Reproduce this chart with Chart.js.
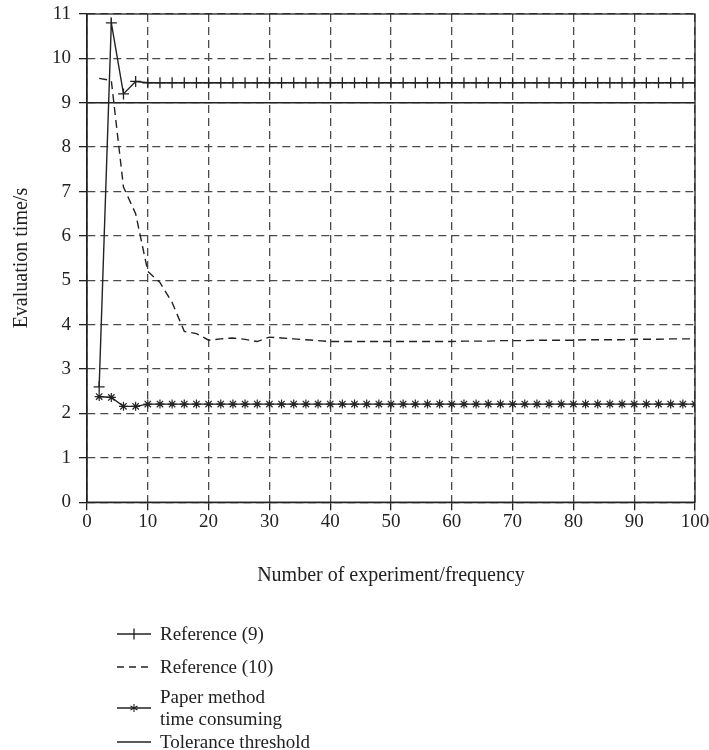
<!DOCTYPE html>
<html>
<head>
<meta charset="utf-8">
<script src="https://cdn.jsdelivr.net/npm/chart.js@4.4.1/dist/chart.umd.min.js"></script>
<style>
  body { margin: 0; background: #fff; }
  #wrap { position: relative; width: 709px; height: 750px; }
  #legend { position: absolute; left: 0; top: 0; width: 709px; height: 750px; pointer-events: none;
            font-family: "Liberation Serif", serif; font-size: 19px; color: #222; white-space: nowrap; }
  .row { position: absolute; left: 117px; display: flex; align-items: center; }
  .row svg { width: 34px; height: 14px; margin-right: 9px; flex: none; }
  .row span { line-height: 22px; }
</style>
</head>
<body>
<div id="wrap">
  <canvas id="chart" width="709" height="750"></canvas>
  <div id="legend">
    <div class="row" style="top:620px;height:28px">
      <svg viewBox="0 0 34 14"><line x1="0" y1="7" x2="34" y2="7" stroke="#222" stroke-width="1.3"/><line x1="17" y1="1.5" x2="17" y2="12.5" stroke="#222" stroke-width="1.3"/></svg>
      <span>Reference (9)</span>
    </div>
    <div class="row" style="top:653px;height:28px">
      <svg viewBox="0 0 34 14"><line x1="0" y1="7" x2="34" y2="7" stroke="#222" stroke-width="1.3" stroke-dasharray="7,5"/></svg>
      <span>Reference (10)</span>
    </div>
    <div class="row" style="top:686px;height:44px">
      <svg viewBox="0 0 34 14"><line x1="0" y1="7" x2="34" y2="7" stroke="#222" stroke-width="1.3"/><path d="M17 3 V11 M13.5 5 L20.5 9 M13.5 9 L20.5 5" stroke="#222" stroke-width="1.1"/></svg>
      <span>Paper method<br>time consuming</span>
    </div>
    <div class="row" style="top:728px;height:28px">
      <svg viewBox="0 0 34 14"><line x1="0" y1="7" x2="34" y2="7" stroke="#222" stroke-width="1.3"/></svg>
      <span>Tolerance threshold</span>
    </div>
  </div>
</div>
<script>
// numero de experimento (eje x)
const runs = [2, 4, 6, 8, 10, 12, 14, 16, 18, 20, 22, 24, 26, 28, 30, 32, 34, 36, 38, 40,
    42, 44, 46, 48, 50, 52, 54, 56, 58, 60, 62, 64, 66, 68, 70, 72, 74, 76, 78, 80,
    82, 84, 86, 88, 90, 92, 94, 96, 98, 100];

// Reference (9)
const ref9 = [2.6, 10.8, 9.2, 9.48, 9.45, 9.45, 9.45, 9.45, 9.45, 9.45, 9.45, 9.45, 9.45, 9.45, 9.45, 9.45, 9.45, 9.45, 9.45, 9.45,
    9.45, 9.45, 9.45, 9.45, 9.45, 9.45, 9.45, 9.45, 9.45, 9.45, 9.45, 9.45, 9.45, 9.45, 9.45, 9.45, 9.45, 9.45, 9.45, 9.45,
    9.45, 9.45, 9.45, 9.45, 9.45, 9.45, 9.45, 9.45, 9.45, 9.45];

// Reference (10)
const ref10 = [9.55, 9.5, 7.1, 6.5, 5.2, 4.95, 4.5, 3.85, 3.8, 3.65, 3.68, 3.7, 3.67, 3.62, 3.72, 3.7, 3.68, 3.66, 3.64, 3.62,
    3.62, 3.62, 3.62, 3.62, 3.62, 3.62, 3.62, 3.62, 3.62, 3.62, 3.63, 3.63, 3.63, 3.64, 3.64, 3.64, 3.65, 3.65, 3.65, 3.65,
    3.66, 3.66, 3.66, 3.66, 3.67, 3.67, 3.67, 3.68, 3.68, 3.68];

// Paper method time consuming
const paper = [2.38, 2.36, 2.16, 2.16, 2.21, 2.21, 2.21, 2.21, 2.21, 2.21, 2.21, 2.21, 2.21, 2.21, 2.21, 2.21, 2.21, 2.21, 2.21, 2.21,
    2.21, 2.21, 2.21, 2.21, 2.21, 2.21, 2.21, 2.21, 2.21, 2.21, 2.21, 2.21, 2.21, 2.21, 2.21, 2.21, 2.21, 2.21, 2.21, 2.21,
    2.21, 2.21, 2.21, 2.21, 2.21, 2.21, 2.21, 2.21, 2.21, 2.21];

// Tolerance threshold
const thresholdX = [0, 100];
const thresholdY = [9, 9];

const xTicks = [0, 10, 20, 30, 40, 50, 60, 70, 80, 90, 100];
const yTicks = [0, 1, 2, 3, 4, 5, 6, 7, 8, 9, 10, 11];

const toPoints = (xs, ys) => xs.map((x, i) => ({ x: x, y: ys[i] }));

const ink = '#222';
const serif = 'Liberation Serif';

// marco alrededor del area de trazado
const framePlugin = {
    id: 'frame',
    afterDatasetsDraw(chart) {
        const { ctx, chartArea: a } = chart;
        ctx.save();
        ctx.strokeStyle = ink;
        ctx.lineWidth = 1.3;
        ctx.strokeRect(a.left, a.top, a.right - a.left, a.bottom - a.top);
        ctx.restore();
    }
};

const ctx = document.getElementById('chart').getContext('2d');
const chart = new Chart(ctx, {
    type: 'line',
    data: {
        datasets: [
            {
                label: 'Reference (9)',
                data: toPoints(runs, ref9),
                borderColor: ink,
                borderWidth: 1.4,
                pointStyle: 'cross',
                pointRadius: 5.5,
                pointBorderColor: ink,
                pointBorderWidth: 1.3,
                tension: 0
            },
            {
                label: 'Reference (10)',
                data: toPoints(runs, ref10),
                borderColor: ink,
                borderWidth: 1.4,
                borderDash: [8, 5],
                pointRadius: 0,
                tension: 0
            },
            {
                label: 'Paper method time consuming',
                data: toPoints(runs, paper),
                borderColor: ink,
                borderWidth: 1.4,
                pointStyle: 'star',
                pointRadius: 4.5,
                pointBorderColor: ink,
                pointBorderWidth: 1.2,
                tension: 0
            },
            {
                label: 'Tolerance threshold',
                data: toPoints(thresholdX, thresholdY),
                borderColor: ink,
                borderWidth: 1.4,
                pointRadius: 0,
                tension: 0
            }
        ]
    },
    options: {
        responsive: false,
        animation: false,
        devicePixelRatio: 1,
        layout: { padding: { top: 0, right: 0, bottom: 162, left: 0 } },
        plugins: {
            legend: { display: false },
            tooltip: { enabled: false }
        },
        scales: {
            x: {
                type: 'linear',
                min: 0,
                max: 100,
                afterBuildTicks: (scale) => { scale.ticks = xTicks.map(v => ({ value: v })); },
                afterFit: (scale) => { scale.paddingRight = 14; },
                grid: { color: '#4a4a4a', lineWidth: 1.3, tickLength: 8, tickColor: ink, tickWidth: 1.3 },
                border: { color: ink, width: 1.3, dash: [8, 5] },
                ticks: { color: ink, padding: 0, maxRotation: 0, font: { family: serif, size: 19 } },
                title: {
                    display: true,
                    text: 'Number of experiment/frequency',
                    color: ink,
                    font: { family: serif, size: 20 },
                    padding: { top: 31, bottom: 0 }
                }
            },
            y: {
                min: 0,
                max: 11,
                afterBuildTicks: (scale) => { scale.ticks = yTicks.map(v => ({ value: v })); },
                afterFit: (scale) => { scale.paddingTop = 14; },
                grid: { color: '#4a4a4a', lineWidth: 1.3, tickLength: 8, tickColor: ink, tickWidth: 1.3 },
                border: { color: ink, width: 1.3, dash: [8, 5] },
                ticks: { color: ink, padding: 8, font: { family: serif, size: 19 } },
                title: {
                    display: true,
                    text: 'Evaluation time/s',
                    color: ink,
                    font: { family: serif, size: 20 },
                    padding: { top: 10, bottom: 10 }
                }
            }
        }
    },
    plugins: [framePlugin]
});
</script>
</body>
</html>
